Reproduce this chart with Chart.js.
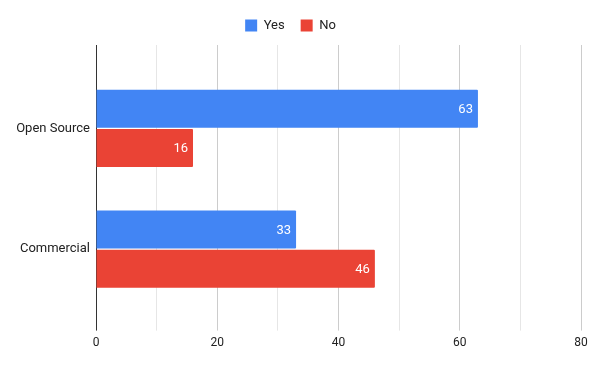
<!DOCTYPE html>
<html>
<head>
<meta charset="utf-8">
<script src="https://cdn.jsdelivr.net/npm/chart.js@4"></script>
<style>
  html, body { margin: 0; padding: 0; background: #fff; }
  #wrap { width: 600px; height: 371px; }
</style>
</head>
<body>
<div id="wrap"><canvas id="chart"></canvas></div>
<script>
const categories = ['Open Source', 'Commercial'];
const yesValues = [63, 33];
const noValues = [16, 46];
const xTicks = [0, 20, 40, 60, 80];

const axisMin = xTicks[0];
const axisMax = xTicks[xTicks.length - 1];

// white value labels at the end of each bar
const barLabels = {
  id: 'barLabels',
  afterDatasetsDraw(chart) {
    const ctx = chart.ctx;
    ctx.save();
    ctx.font = '13px Roboto';
    ctx.fillStyle = '#ffffff';
    ctx.textAlign = 'right';
    ctx.textBaseline = 'middle';
    chart.data.datasets.forEach((ds, i) => {
      chart.getDatasetMeta(i).data.forEach((bar, j) => {
        ctx.fillText(ds.data[j], bar.x - 5, bar.y + 1);
      });
    });
    ctx.restore();
  }
};

const gridColor = (c) => {
  const v = c.tick ? c.tick.value : 0;
  if (v === 0) return '#333333';
  return v % 20 === 0 ? '#cccccc' : '#e6e6e6';
};

new Chart(document.getElementById('chart'), {
  type: 'bar',
  data: {
    labels: categories,
    datasets: [
      { label: 'Yes', data: yesValues, backgroundColor: '#4285F4' },
      { label: 'No', data: noValues, backgroundColor: '#EA4335' }
    ]
  },
  options: {
    indexAxis: 'y',
    responsive: true,
    maintainAspectRatio: false,
    animation: false,
    layout: { padding: { left: 0, right: 19, top: 3, bottom: 16 } },
    datasets: { bar: { categoryPercentage: 0.65, barPercentage: 0.97, borderRadius: 1 } },
    plugins: {
      legend: {
        position: 'top',
        labels: {
          boxWidth: 12, boxHeight: 12, padding: 16,
          color: '#222222', font: { family: 'Roboto', size: 13 }
        }
      },
      tooltip: { enabled: false }
    },
    scales: {
      x: {
        position: 'bottom',
        min: axisMin, max: axisMax,
        border: { display: false },
        grid: { color: gridColor, tickLength: 21, lineWidth: 1 },
        ticks: {
          stepSize: 10, padding: 5, color: '#222222',
          font: { family: 'Roboto', size: 12 },
          callback: (v) => xTicks.includes(v) ? v : ''
        }
      },
      x2: {
        position: 'top',
        display: true,
        min: axisMin, max: axisMax,
        border: { display: false },
        grid: { color: gridColor, tickLength: 23, drawOnChartArea: false },
        ticks: { stepSize: 10, display: false },
        afterFit: (scale) => { scale.height = 26; }
      },
      y: {
        border: { display: false },
        grid: { display: false, drawTicks: false },
        afterFit: (scale) => { scale.width = 96; },
        ticks: { padding: 6, color: '#222222', font: { family: 'Roboto', size: 13 } }
      }
    }
  },
  plugins: [barLabels]
});
</script>
</body>
</html>
